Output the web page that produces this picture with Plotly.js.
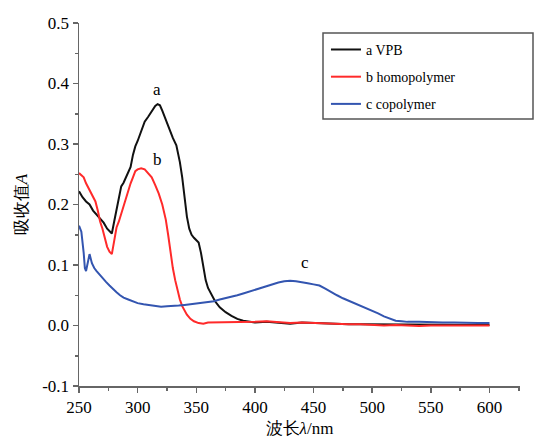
<!DOCTYPE html>
<html>
<head>
<meta charset="utf-8">
<script src="https://cdn.plot.ly/plotly-3.0.1.min.js"></script>
<style>html,body{margin:0;padding:0;background:#fff;}#chart{width:549px;height:443px;}</style>
</head>
<body>
<div id="chart"></div>
<script>
// Series a: VPB
const lamA = [250,253,256,259,262,265,268,271,274,276,278,280,282,284,286,288,290,292,294,296,298,300,303,306,309,312,315,317,319,321,324,327,330,333,336,338,340,342,344,346,348,350,352,354,356,358,360,363,366,370,375,380,385,390,395,400,410,420,430,440,450,460,470,480,490,500,510,520,530,545,560,575,590,600];
const absA = [0.222,0.212,0.205,0.200,0.190,0.183,0.177,0.170,0.160,0.156,0.152,0.172,0.192,0.215,0.230,0.236,0.245,0.252,0.262,0.282,0.296,0.305,0.322,0.337,0.345,0.355,0.363,0.366,0.364,0.355,0.340,0.322,0.310,0.298,0.270,0.245,0.210,0.180,0.160,0.150,0.145,0.141,0.137,0.120,0.095,0.075,0.062,0.050,0.040,0.030,0.022,0.016,0.011,0.008,0.006,0.005,0.006,0.004,0.003,0.005,0.004,0.003,0.003,0.002,0.002,0.002,0.002,0.001,0.002,0.002,0.001,0.002,0.001,0.001];
// Series b: homopolymer
const lamB = [250,252,254,256,258,260,262,264,266,268,270,272,274,276,278,280,282,284,286,288,290,292,294,296,298,300,303,306,309,312,315,318,321,324,326,328,330,332,334,336,338,340,342,345,348,352,356,360,370,380,390,400,410,420,430,440,450,460,470,480,490,500,510,520,530,540,550,560,570,580,590,600];
const absB = [0.252,0.248,0.245,0.235,0.228,0.220,0.212,0.205,0.190,0.172,0.160,0.145,0.130,0.122,0.118,0.140,0.162,0.172,0.185,0.200,0.212,0.222,0.235,0.245,0.255,0.258,0.260,0.258,0.252,0.245,0.232,0.218,0.200,0.175,0.150,0.120,0.095,0.075,0.058,0.043,0.032,0.024,0.018,0.011,0.007,0.004,0.003,0.005,0.005,0.006,0.005,0.006,0.007,0.005,0.004,0.005,0.004,0.003,0.003,0.002,0.002,0.001,0.000,0.001,0.000,-0.001,0.000,0.000,-0.001,0.000,0.000,0.000];
// Series c: copolymer
const lamC = [250,252,254,255,256,257,258,259,261,263,265,267,270,273,276,279,282,285,288,292,296,300,305,310,315,320,325,330,335,340,345,350,355,360,365,370,375,380,385,390,395,400,405,410,415,420,425,430,435,440,445,450,455,460,465,470,475,480,485,490,495,500,505,510,515,520,525,530,540,550,560,570,580,590,600];
const absC = [0.165,0.155,0.120,0.095,0.090,0.100,0.112,0.118,0.103,0.095,0.090,0.085,0.079,0.072,0.066,0.060,0.055,0.050,0.046,0.043,0.040,0.037,0.035,0.034,0.032,0.031,0.032,0.032,0.033,0.034,0.035,0.036,0.037,0.039,0.040,0.043,0.045,0.048,0.050,0.053,0.056,0.059,0.062,0.066,0.069,0.071,0.073,0.074,0.073,0.072,0.070,0.068,0.066,0.061,0.055,0.050,0.045,0.041,0.037,0.033,0.029,0.025,0.020,0.015,0.011,0.008,0.007,0.006,0.006,0.005,0.005,0.005,0.004,0.004,0.004];

const seriesNames = ['a VPB','b homopolymer','c copolymer'];
const curveLabels = ['a','b','c'];
const labelX = [316.5,317,443];
const labelY = [0.39,0.274,0.104];
const xTicks = [250,300,350,400,450,500,550,600];
const yTicks = [-0.1,0.0,0.1,0.2,0.3,0.4,0.5];

const serif = 'Liberation Serif';
const colors = ['#111111','#ff2a2a','#3355b0'];
const xs = [lamA,lamB,lamC], ys = [absA,absB,absC];

const traces = xs.map((x,i)=>({
  x: x, y: ys[i], type:'scatter', mode:'lines', name: seriesNames[i],
  legendgroup: 'g'+i,
  line:{color:colors[i], width:2}
}));

function axisBase(){
  return {
    showgrid:false, zeroline:false,
    showline:true, linecolor:'#666', linewidth:1.5, ticks:'outside', ticklen:5, tickcolor:'#666', tickwidth:1.5,
    tickfont:{family:serif, size:17, color:'#000'}
  };
}

const layout = {
  width:549, height:443,
  margin:{l:79, r:29, t:23, b:57},
  paper_bgcolor:'#fff', plot_bgcolor:'#fff',
  font:{family:serif, color:'#000', size:16},
  showlegend:true,
  legend:{x:0.56, y:0.97, xanchor:'left', yanchor:'top', bgcolor:'rgba(0,0,0,0)',
          borderwidth:0, font:{family:serif, size:14, color:'#000'}, tracegroupgap:6, traceorder:'grouped'},
  xaxis:Object.assign(axisBase(), {range:[250,626], tickvals:xTicks, ticktext:xTicks.map(String),
         minor:{dtick:25, ticks:'outside', ticklen:3, tickcolor:'#666', tickwidth:1.5},
         title:{text:'波长<i>λ</i>/nm', font:{family:serif, size:17, color:'#000'}, standoff:6}}),
  yaxis:Object.assign(axisBase(), {range:[-0.1,0.5], tickvals:yTicks, ticktext:yTicks.map(v=>v.toFixed(1)),
         minor:{dtick:0.05, ticks:'outside', ticklen:3, tickcolor:'#666', tickwidth:1.5},
         title:{text:'吸收值<i>A</i>', font:{family:serif, size:17, color:'#000'}, standoff:10}}),
  annotations: curveLabels.map((t,i)=>({x:labelX[i], y:labelY[i], xref:'x', yref:'y', text:t, showarrow:false,
         font:{family:serif, size:17, color:'#000'}})),
  shapes:[{type:'rect', xref:'paper', yref:'paper', x0:(323-79)/441, x1:(533-79)/441, y0:(386-119)/363, y1:(386-33)/363,
           line:{color:'#555', width:1.5}, fillcolor:'rgba(0,0,0,0)'}]
};

Plotly.newPlot('chart', traces, layout, {displayModeBar:false, staticPlot:true});
</script>
</body>
</html>
